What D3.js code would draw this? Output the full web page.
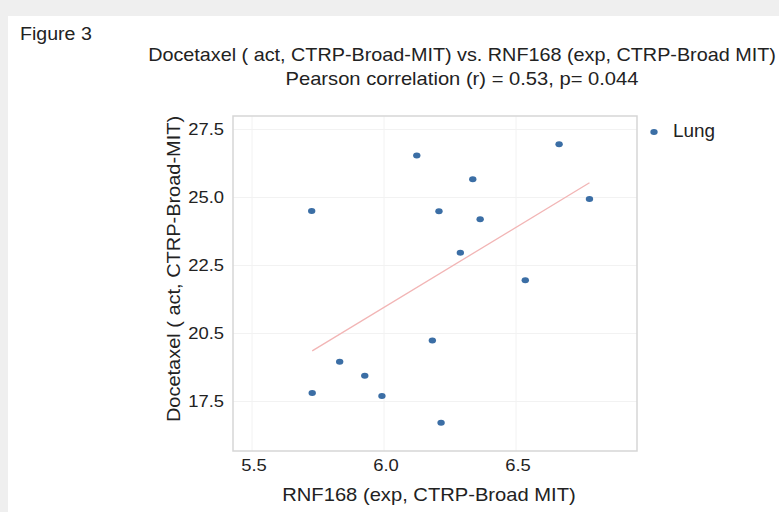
<!DOCTYPE html>
<meta charset="utf-8">
<style>
body { margin: 0; background: #efefef; }
text { font-family: "Liberation Sans", Arial, sans-serif; fill: #222; }
.grid line { stroke: #f2f2f2; stroke-width: 1px; }
</style>
<body>
<script src="https://cdn.jsdelivr.net/npm/d3@7"></script>
<script>
// RNF168 expression (x) vs Docetaxel activity (y), lung lines
var rnf168 = [5.726, 6.124, 6.208, 6.663, 6.336, 6.778, 6.364, 6.289, 6.535, 6.183, 5.832, 5.927, 5.728, 5.992, 6.216];
var docetaxel = [24.50, 26.54, 24.49, 26.96, 25.67, 24.94, 24.20, 22.97, 21.96, 19.74, 18.96, 18.45, 17.81, 17.70, 16.72];
var fitX = [5.728, 6.778];
var fitY = [19.36, 25.54];
var xTicks = [5.5, 6.0, 6.5];
var xTickLabels = ["5.5", "6.0", "6.5"];
var yTicks = [17.5, 20, 22.5, 25, 27.5];
var yTickLabels = ["17.5", "20.5", "22.5", "25.0", "27.5"];

var width = 779, height = 512;
var plot = {left: 233, top: 116, right: 637, bottom: 451};
var sx = 1.12; // text in the figure is a bit wide

var svg = d3.select("body").append("svg")
    .attr("width", width)
    .attr("height", height);

// white card
svg.append("rect")
    .attr("x", 8).attr("y", 16)
    .attr("width", width - 8).attr("height", height - 16)
    .attr("fill", "#fff");

var x = d3.scaleLinear().domain([5.428, 6.958]).range([plot.left, plot.right]);
var y = d3.scaleLinear().domain([15.68, 27.996]).range([plot.bottom, plot.top]);

function label(tx, ty, str, size, anchor, rot, stretch) {
  return svg.append("text")
      .attr("transform", "translate(" + tx + "," + ty + ")" + (rot ? "rotate(" + rot + ")" : "") + "scale(" + (stretch || sx) + ",1)")
      .attr("text-anchor", anchor || "start")
      .style("font-size", size + "px")
      .text(str);
}

// grid
var grid = svg.append("g").attr("class", "grid");
grid.selectAll(".gx").data(xTicks).enter().append("line")
    .attr("x1", function(d) { return x(d); }).attr("x2", function(d) { return x(d); })
    .attr("y1", plot.top).attr("y2", plot.bottom);
grid.selectAll(".gy").data(yTicks).enter().append("line")
    .attr("x1", plot.left).attr("x2", plot.right)
    .attr("y1", function(d) { return y(d); }).attr("y2", function(d) { return y(d); });

// frame
svg.append("rect")
    .attr("x", plot.left).attr("y", plot.top)
    .attr("width", plot.right - plot.left).attr("height", plot.bottom - plot.top)
    .attr("fill", "none").attr("stroke", "#d6d6d6").attr("stroke-width", 1.5);

// tick labels
xTicks.forEach(function(d, i) {
  label(x(d) + 2, 471, xTickLabels[i], 16, "middle", 0, 1.15);
});
yTicks.forEach(function(d, i) {
  label(224, y(d) + 6, yTickLabels[i], 16, "end", 0, 1.15);
});

// fit line
svg.append("line")
    .attr("x1", x(fitX[0])).attr("y1", y(fitY[0]))
    .attr("x2", x(fitX[1])).attr("y2", y(fitY[1]))
    .attr("stroke", "#f2b5b5").attr("stroke-width", 1.3);

// points
svg.selectAll(".pt").data(rnf168).enter().append("ellipse")
    .attr("class", "pt")
    .attr("cx", function(d) { return x(d); })
    .attr("cy", function(d, i) { return y(docetaxel[i]); })
    .attr("rx", 3.7).attr("ry", 3)
    .attr("fill", "#3b6ea5");

// titles
label(20, 40, "Figure 3", 17.5);
label(462, 61, "Docetaxel ( act, CTRP-Broad-MIT) vs. RNF168 (exp, CTRP-Broad MIT)", 18, "middle", 0, 1.1);
label(462, 85, "Pearson correlation (r) = 0.53, p= 0.044", 18, "middle");

label(180, 269, "Docetaxel ( act, CTRP-Broad-MIT)", 18, "middle", -90, 1.11);
label(429, 501, "RNF168 (exp, CTRP-Broad MIT)", 18, "middle");

// legend
svg.append("ellipse").attr("cx", 654).attr("cy", 132).attr("rx", 3.7).attr("ry", 3)
    .attr("fill", "#3b6ea5");
label(673, 137, "Lung", 17.5, "start", 0, 1.08);
</script>
